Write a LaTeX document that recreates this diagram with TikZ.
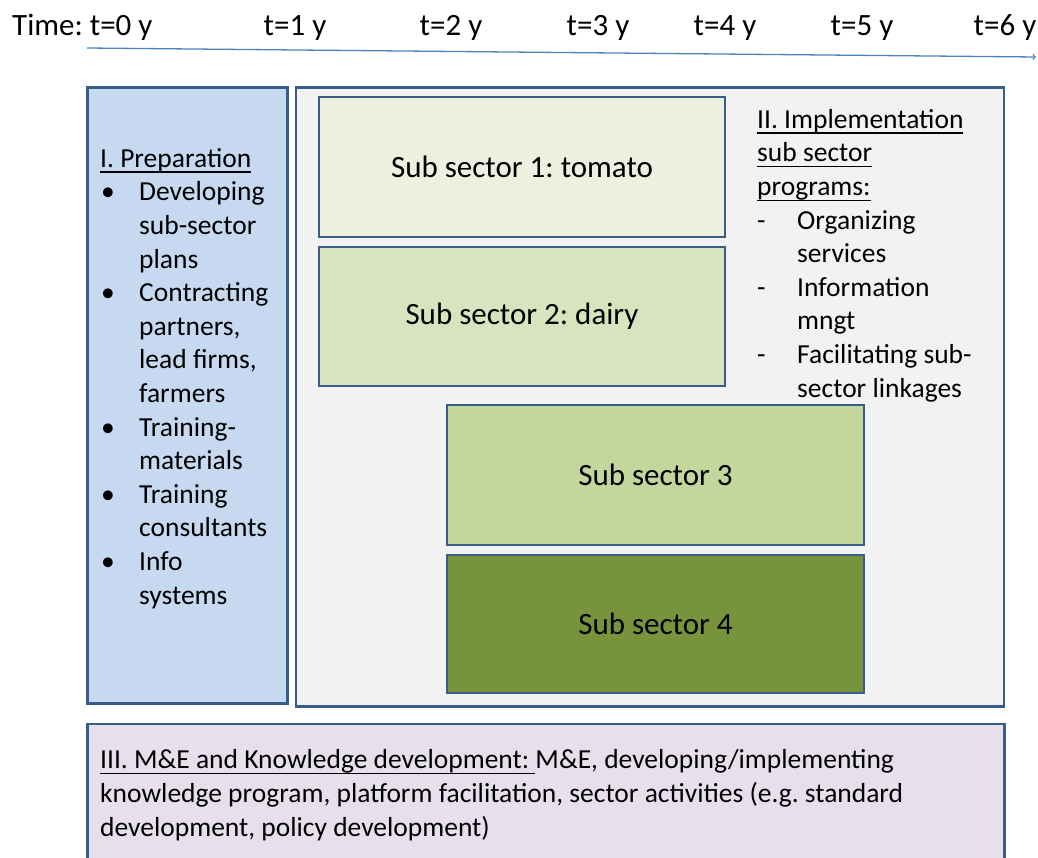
\documentclass[tikz,border=0pt]{standalone}
\usepackage{fontspec}
\setmainfont{Carlito}
\usepackage{xcolor}
\usepackage{tikz}
\usetikzlibrary{arrows, positioning, calc}
\definecolor{edgeblue}{RGB}{56, 93, 138}
\definecolor{prepblue}{RGB}{198, 217, 241}
\definecolor{implgray}{RGB}{242, 242, 242}
\definecolor{subone}{RGB}{235, 241, 222}
\definecolor{subtwo}{RGB}{215, 228, 189}
\definecolor{subthree}{RGB}{195, 214, 155}
\definecolor{subfour}{RGB}{119, 147, 60}
\definecolor{melilac}{RGB}{230, 224, 236}
\definecolor{timeblue}{RGB}{79, 129, 189}

\newsavebox{\ulbox}
\newcommand{\ulabel}[1]{\sbox{\ulbox}{#1}\rlap{\rule[-5.5pt]{\wd\ulbox}{1.3pt}}\usebox{\ulbox}}
\newcommand{\bitem}{\makebox[39pt][l]{\hspace{1pt}\textbullet}}
\newcommand{\ditem}{\makebox[40pt][l]{-}}
\newcommand{\bcont}{\hspace*{39pt}}
\newcommand{\dcont}{\hspace*{40pt}}

\begin{document}
\frenchspacing
\begin{tikzpicture}[x=1pt, y=-1pt,
    stage/.style={draw=edgeblue, line width=2.8pt, inner sep=0pt, outer sep=0pt, anchor=north west},
    subbox/.style={stage, font=\fontsize{31}{37}\selectfont},
    body/.style={font=\fontsize{27.5}{33.6}\selectfont, align=left, inner sep=0pt, anchor=base west},
    timelabel/.style={font=\fontsize{31}{37}\selectfont, inner sep=0pt}]
    \useasboundingbox (0,0) rectangle (1038,857);

    % Time axis
    \node[timelabel, anchor=base west] (t0) at (12,35) {Time: t=0 y};
    \foreach \x/\n in {295/1, 451/2, 598/3, 725/4, 862/5, 1005/6} {
        \node[timelabel, anchor=base] (t\n) at (\x,35) {t=\n\ y};
    }
    \coordinate (tstart) at (87,48);
    \coordinate (tend) at (1036,57);
    \draw[timeblue, line width=1.3pt, ->] (tstart) -- (tend);

    % I. Preparation (text node sits on its last baseline)
    \node[stage, fill=prepblue, minimum width=200, minimum height=616] (prep) at (87.5,87.5) {};
    \node[body] (preptext) at (100,604) {\ulabel{I. Preparation}\\
        \bitem Developing\\ \bcont sub-sector\\ \bcont plans\\
        \bitem Contracting\\ \bcont partners,\\ \bcont lead firms,\\ \bcont farmers\\
        \bitem Training-\\ \bcont materials\\
        \bitem Training\\ \bcont consultants\\
        \bitem Info\\ \bcont systems};

    % II. Implementation
    \node[stage, fill=implgray, minimum width=708, minimum height=619] (impl) at (296,87.5) {};
    \node[subbox, fill=subone, minimum width=406, minimum height=140] (sub1) at (319,97) {Sub sector 1: tomato};
    \node[subbox, fill=subtwo, minimum width=406, minimum height=139] (sub2) at (319,247) {Sub sector 2: dairy};
    \node[subbox, fill=subthree, minimum width=417, minimum height=140] (sub3) at (447,405) {Sub sector 3};
    \node[subbox, fill=subfour, minimum width=417, minimum height=138] (sub4) at (447,555) {Sub sector 4};
    \node[body] (impltext) at (757,397) {\ulabel{II. Implementation}\\
        \ulabel{sub sector}\\ \ulabel{programs:}\\
        \ditem Organizing\\ \dcont services\\
        \ditem Information\\ \dcont mngt\\
        \ditem Facilitating sub-\\ \dcont sector linkages};

    % III. M&E
    \node[stage, fill=melilac, minimum width=917, minimum height=160] (mande) at (87.5,724) {};
    \node[body] (mandetext) at (100,836) {\ulabel{III. M\&E and Knowledge development: }M\&E, developing/implementing\\
        knowledge program, platform facilitation, sector activities (e.g. standard\\
        development, policy development)};
\end{tikzpicture}
\end{document}
